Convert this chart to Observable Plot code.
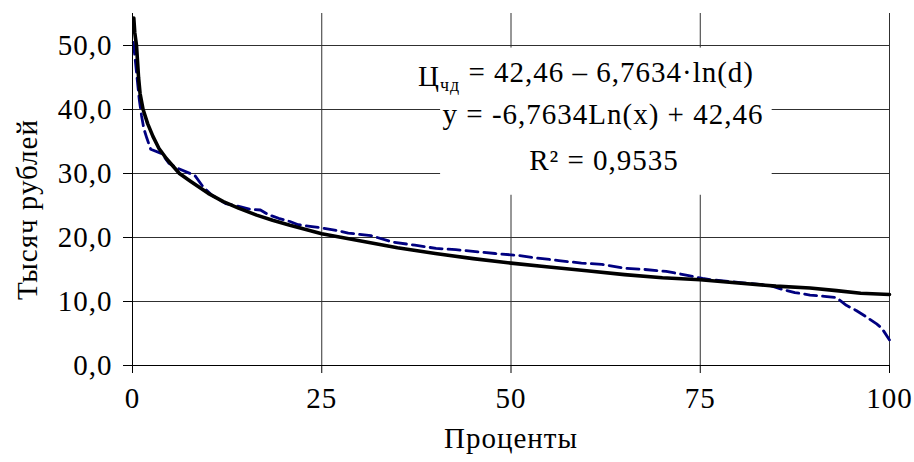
<!DOCTYPE html>
<html><head><meta charset="utf-8">
<script src="https://cdn.jsdelivr.net/npm/d3@7"></script>
<script src="https://cdn.jsdelivr.net/npm/@observablehq/plot@0.6"></script>
<style>
body{margin:0;background:#fff;}
#chart svg text{letter-spacing:1px;}
</style></head><body><div id="chart"></div>
<script>
// Data series
const dashedX = [0.1,0.3,0.6,0.9,1.2,1.5,1.9,2.4,3.9,4.8,6.0,7.6,8.3,9.4,10.5,12.3,14.3,15.6,16.9,17.9,19.3,20.8,21.9,23.7,25.0,26.5,28.5,31.5,34.3,37.3,40.1,42.7,45.3,47.9,50.9,53.4,56.3,59.3,62.0,65.0,67.7,70.5,73.3,75.3,76.5,80.0,84.2,85.5,87.5,89.5,91.4,93.0,94.3,95.6,96.8,98.3,99.0,100];
const dashedY = [50.5,48.5,45.0,41.5,39.0,37.0,35.5,33.8,33.1,31.6,30.8,30.0,29.6,27.8,26.6,25.3,24.8,24.4,24.3,23.6,23.0,22.5,22.0,21.7,21.5,21.2,20.7,20.3,19.3,18.8,18.3,18.1,17.8,17.5,17.2,16.8,16.4,16.0,15.8,15.2,15.0,14.7,14.1,13.6,13.4,13.0,12.5,12.0,11.4,11.0,10.8,10.6,9.4,8.6,7.7,6.5,5.8,4.0];
const trendX = [0.17,0.3,0.53,0.8,1.0,1.4,2.0,2.7,3.5,4.5,6.2,7.65,10,12,14,16.4,18.5,20.8,25,30,35,40,45,50,55,60,65,70,75,80,85,89.5,93,96.2,100];
const trendY = [54.3,52.0,50.0,45.0,42.5,40.0,37.8,35.8,33.9,32.3,30.0,28.8,26.9,25.6,24.6,23.5,22.7,21.9,20.6,19.5,18.4,17.5,16.7,16.0,15.4,14.8,14.2,13.7,13.4,12.9,12.4,12.1,11.7,11.3,11.1];
const xTicks = [0,25,50,75,100];
const yTicks = [0,10,20,30,40,50];
const xLabel = "Проценты";
const yLabel = "Тысяч рублей";
const eqLine1 = "Ц|чд| = 42,46 – 6,7634·ln(d)";
const eqLine2 = "y = -6,7634Ln(x) + 42,46";
const eqLine3 = "R² = 0,9535";
const boxX = [40.7, 84.5];
const boxY = [26.6, 49.6];

const dashed = dashedX.map((x,i)=>({x, y: dashedY[i]}));
const trend = trendX.map((x,i)=>({x, y: trendY[i]}));
const fs = 29;
const grid = "#303030";
const serif = "Liberation Serif";
const txt = {fontSize: fs, fontFamily: serif, fill: "#000"};

const chart = Plot.plot({
  width: 914, height: 462,
  marginLeft: 132, marginRight: 25, marginTop: 13, marginBottom: 97,
  x: {domain: [0,100]},
  y: {domain: [0,55]},
  marks: [
    Plot.gridX(xTicks, {stroke: grid, strokeOpacity: 1}),
    Plot.gridY(yTicks, {stroke: grid, strokeOpacity: 1}),
    Plot.rect([{x1: boxX[0], x2: boxX[1], y1: boxY[0], y2: boxY[1]}], {x1:"x1", x2:"x2", y1:"y1", y2:"y2", fill: "#fff"}),
    Plot.line(dashed, {x:"x", y:"y", stroke: "#000080", strokeWidth: 2.8, strokeDasharray: "12,6"}),
    Plot.line(trend, {x:"x", y:"y", stroke: "#000", strokeWidth: 3.6}),
    Plot.ruleX([0], {stroke: "#000"}),
    Plot.ruleY([0], {stroke: "#000"}),
    Plot.axisY(yTicks, {tickSize: 9, tickPadding: 11, tickFormat: d => d.toFixed(1).replace(".", ","), label: null, ...txt}),
    Plot.axisX(xTicks, {tickSize: 8, tickPadding: 14, label: null, ...txt}),
    Plot.text([yLabel], {frameAnchor: "left", textAnchor: "middle", lineAnchor: "middle", dx: -105, dy: 20, rotate: -90, ...txt}),
    Plot.text([xLabel], {frameAnchor: "bottom", textAnchor: "middle", lineAnchor: "middle", dy: 73, ...txt}),
    Plot.text([eqLine1], {frameAnchor: "top", lineAnchor: "middle", dx: 75, dy: 63, ...txt}),
    Plot.text([eqLine2], {frameAnchor: "top", lineAnchor: "middle", dx: 92, dy: 101, ...txt}),
    Plot.text([eqLine3], {frameAnchor: "top", lineAnchor: "middle", dx: 93, dy: 147, ...txt})
  ]
});
document.getElementById("chart").appendChild(chart);
// subscript for Ц_чд
d3.select(chart).selectAll("text").each(function(){
  const t = this.textContent;
  if (t === eqLine1) {
    const parts = t.split("|");
    const el = d3.select(this);
    el.text(null);
    el.append("tspan").text(parts[0]);
    el.append("tspan").attr("font-size", "0.62em").attr("dy", "0.3em").text(parts[1]);
    el.append("tspan").attr("dy", "-0.3em").text(parts[2]);
  }
});
</script>
</body></html>
